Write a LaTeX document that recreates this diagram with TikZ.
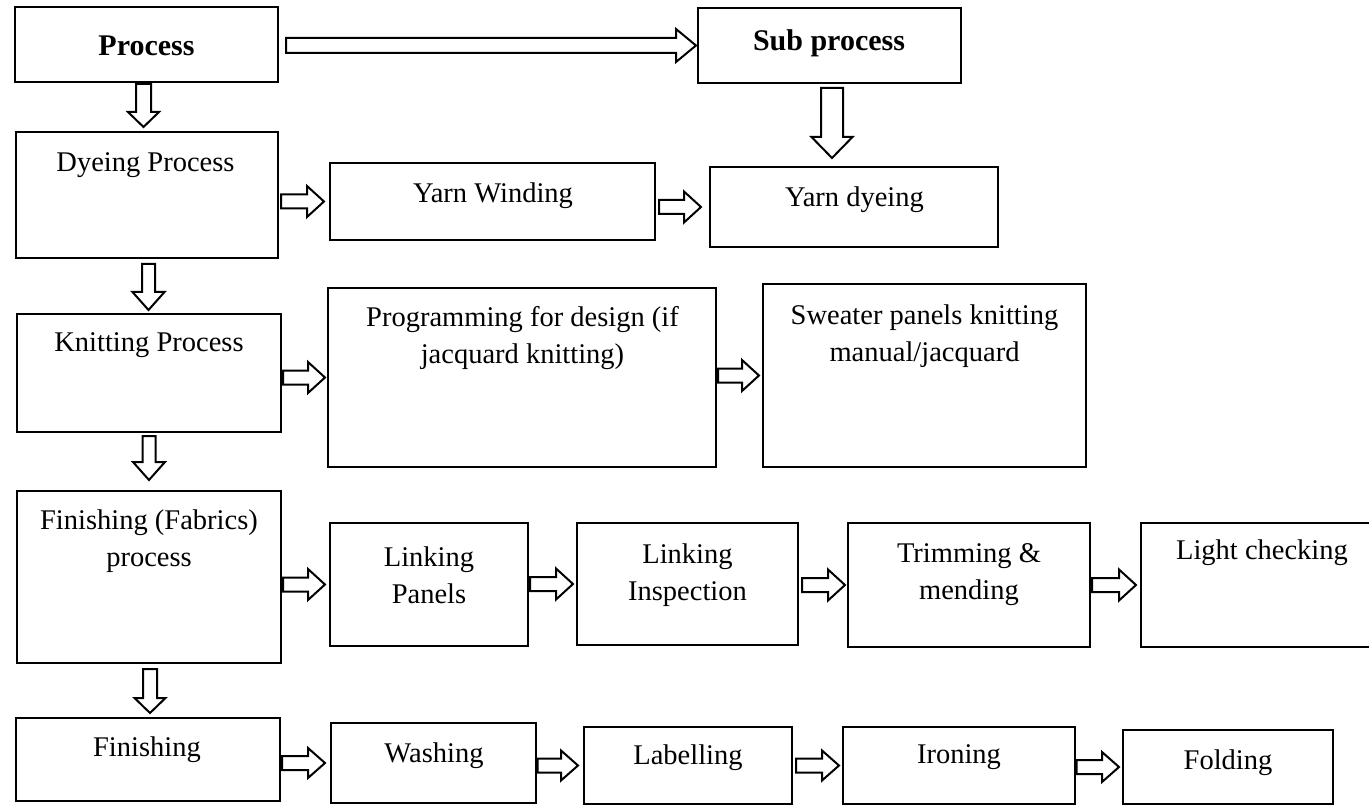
\documentclass[tikz,border=0pt]{standalone}
\usepackage{fontspec}
\setmainfont{Liberation Serif}
\usetikzlibrary{calc,fit}
\tikzset{
  box/.style={draw, line width=2pt, inner sep=0pt},
  lbl/.style={inner sep=0pt, align=center, yshift=-2.5pt, font=\fontsize{28.5}{37}\selectfont},
  blbl/.style={inner sep=0pt, align=center, yshift=-2pt, font=\fontsize{30}{37}\selectfont\bfseries},
  blk/.style={draw, line width=2pt, fill=white, line join=miter},
}
% horizontal block arrow: src, dst, shaft half, head half, head length, gap1, gap2
\newcommand\harr[7]{%
  \draw[blk] let \p1=([xshift=#6]#1.east |- #2.west), \p2=([xshift=-#7]#2.west) in
    (\x1,\y2+#3) -- (\x2-#5,\y2+#3) -- (\x2-#5,\y2+#4) -- (\x2,\y2)
    -- (\x2-#5,\y2-#4) -- (\x2-#5,\y2-#3) -- (\x1,\y2-#3) -- cycle;}
% vertical block arrow: src, dst, xshift, shaft half, head half, head length, gap1, gap2
\newcommand\varr[8]{%
  \draw[blk] let \p1=([xshift=#3]#1.south), \p2=(#2.north) in
    (\x1-#4,\y1-#7) -- (\x1-#4,\y2+#8+#6) -- (\x1-#5,\y2+#8+#6) -- (\x1,\y2+#8)
    -- (\x1+#5,\y2+#8+#6) -- (\x1+#4,\y2+#8+#6) -- (\x1+#4,\y1-#7) -- cycle;}
\begin{document}
\begin{tikzpicture}[x=1pt,y=-1pt]
\useasboundingbox (0,0) rectangle (1369,805);
\clip (0,0) rectangle (1369,805);
% boxes
\node[box, fit={(15,7) (278,82)}] (proc) {};
\node[box, fit={(698,8) (961,83)}] (sub) {};
\node[box, fit={(16,132) (278,258)}] (dye) {};
\node[box, fit={(330,163) (655,240)}] (wind) {};
\node[box, fit={(710,167) (998,247)}] (ydye) {};
\node[box, fit={(17,314) (281,432)}] (knit) {};
\node[box, fit={(328,288) (716,467)}] (prog) {};
\node[box, fit={(763,284) (1086,467)}] (sweat) {};
\node[box, fit={(17,491) (281,663)}] (finf) {};
\node[box, fit={(330,523) (528,646)}] (lpan) {};
\node[box, fit={(577,523) (798,645)}] (linsp) {};
\node[box, fit={(848,523) (1090,647)}] (trim) {};
\node[box, fit={(1141,523) (1392,647)}] (light) {};
\node[box, fit={(16,718) (280,801)}] (fin) {};
\node[box, fit={(331,723) (536,803)}] (wash) {};
\node[box, fit={(584,727) (792,804)}] (label) {};
\node[box, fit={(843,727) (1075,804)}] (iron) {};
\node[box, fit={(1123,730) (1333,804)}] (fold) {};
% texts
\node[blbl] (proc-t) at (146.5,44) {Process};
\node[blbl] (sub-t) at (829,41) {Sub process};
\node[lbl] (dye-t) at (145.5,163) {Dyeing Process};
\node[lbl] (wind-t) at (493,193) {Yarn Winding};
\node[lbl] (ydye-t) at (854.5,197) {Yarn dyeing};
\node[lbl] (knit-t) at (149,343) {Knitting Process};
\node[lbl] (prog-t) at (522.5,336) {Programming for design (if\\jacquard knitting)};
\node[lbl] (sweat-t) at (924.5,333.5) {Sweater panels knitting\\manual/jacquard};
\node[lbl] (finf-t) at (149,539) {Finishing (Fabrics)\\process};
\node[lbl] (lpan-t) at (429,572.5) {Linking\\Panels};
\node[lbl] (linsp-t) at (687.5,572.5) {Linking\\Inspection};
\node[lbl] (trim-t) at (969,572.5) {Trimming \&\\mending};
\node[lbl] (light-t) at (1262,550) {Light checking};
\node[lbl] (fin-t) at (147,747) {Finishing};
\node[lbl] (wash-t) at (434,753) {Washing};
\node[lbl] (label-t) at (688,755) {Labelling};
\node[lbl] (iron-t) at (959,755) {Ironing};
\node[lbl] (fold-t) at (1228,760) {Folding};
% horizontal arrows
\harr{proc}{sub}{7.5pt}{16.5pt}{20pt}{7pt}{1pt}
\harr{dye}{wind}{7pt}{15.5pt}{17pt}{2pt}{5pt}
\harr{wind}{ydye}{7pt}{15.5pt}{17pt}{3pt}{8pt}
\harr{knit}{prog}{7pt}{15.5pt}{17pt}{1pt}{2pt}
\harr{prog}{sweat}{7pt}{15.5pt}{17pt}{1pt}{3pt}
\harr{finf}{lpan}{7pt}{15.5pt}{17pt}{1pt}{4pt}
\harr{lpan}{linsp}{7pt}{15.5pt}{17pt}{1pt}{3pt}
\harr{linsp}{trim}{7pt}{15.5pt}{17pt}{3pt}{2pt}
\harr{trim}{light}{7pt}{15.5pt}{17pt}{1pt}{4pt}
\harr{fin}{wash}{7pt}{15pt}{17pt}{1pt}{5pt}
\harr{wash}{label}{7pt}{15pt}{17pt}{0.5pt}{5pt}
\harr{label}{iron}{7pt}{15pt}{17pt}{3pt}{3pt}
\harr{iron}{fold}{7pt}{15pt}{17pt}{0.5pt}{3pt}
% vertical arrows
\varr{proc}{dye}{-3pt}{7.5pt}{15.5pt}{15pt}{1pt}{4pt}
\varr{sub}{ydye}{2.5pt}{11pt}{20.5pt}{21pt}{4pt}{8pt}
\varr{dye}{knit}{1.5pt}{6.5pt}{16pt}{18pt}{5pt}{3pt}
\varr{knit}{finf}{0pt}{6.5pt}{16pt}{18pt}{3pt}{10pt}
\varr{finf}{fin}{1pt}{7pt}{15.5pt}{15pt}{5pt}{4pt}
\end{tikzpicture}
\end{document}
